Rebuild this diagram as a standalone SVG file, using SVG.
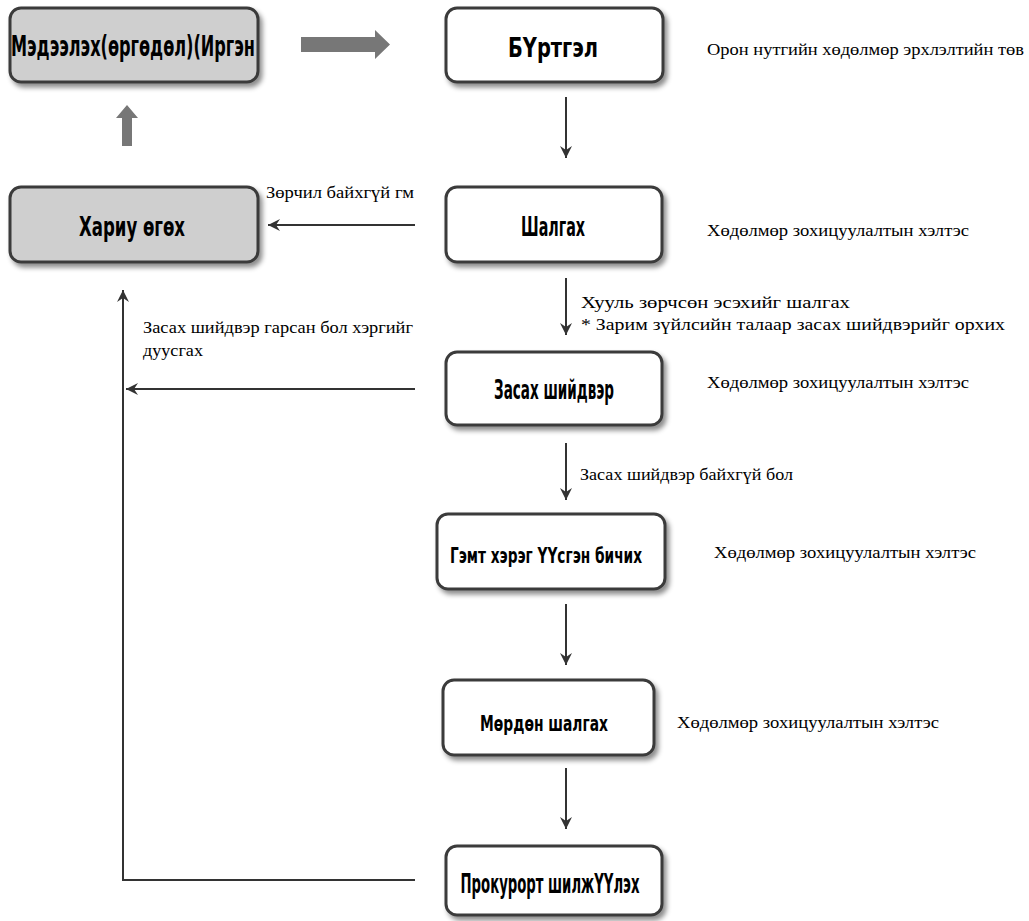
<svg xmlns="http://www.w3.org/2000/svg" width="1029" height="921" viewBox="0 0 1029 921">
<defs>
<filter id="sh" x="-10%" y="-10%" width="125%" height="135%">
<feDropShadow dx="3" dy="4" stdDeviation="2.5" flood-color="#000" flood-opacity="0.45"/>
</filter>
<marker id="ah" markerWidth="14" markerHeight="14" refX="12" refY="7" orient="auto" markerUnits="userSpaceOnUse">
<path d="M0,1 L12,7 L0,13 L4,7 Z" fill="#333"/>
</marker>
<style>
.box{fill:#fff;stroke:#3a3a3a;stroke-width:3;filter:url(#sh)}
.gray{fill:#cfcfcf}
.nt{font-family:"DejaVu Sans Condensed","DejaVu Sans","Noto Sans",sans-serif;font-weight:bold;font-size:27px;fill:#000;text-anchor:middle;dominant-baseline:central}
.lb{font-family:"Liberation Serif","DejaVu Serif","Times New Roman",serif;font-size:17px;fill:#000}
.cn{fill:none;stroke:#333;stroke-width:2;marker-end:url(#ah)}
.blk{fill:#777}
</style>
</defs>
<rect width="1029" height="921" fill="#fff"/>

<g id="n1"><rect class="box gray" x="10" y="8" width="248" height="74" rx="11"/><text class="nt" x="133" y="46" style="font-size:28px" textLength="244" lengthAdjust="spacingAndGlyphs">Мэдээлэх(өргөдөл)(Иргэн</text></g>
<g id="n2"><rect class="box" x="446" y="8" width="217" height="74" rx="11"/><text class="nt" x="553" y="47" textLength="90" lengthAdjust="spacingAndGlyphs">БҮртгэл</text></g>
<g id="n3"><rect class="box" x="446" y="187" width="216" height="75" rx="11"/><text class="nt" x="553" y="226" textLength="64" lengthAdjust="spacingAndGlyphs">Шалгах</text></g>
<g id="n4"><rect class="box gray" x="10" y="187" width="248" height="75" rx="11"/><text class="nt" x="132" y="226" textLength="106" lengthAdjust="spacingAndGlyphs">Хариу өгөх</text></g>
<g id="n5"><rect class="box" x="446" y="352" width="216" height="73" rx="11"/><text class="nt" x="554" y="389" textLength="120" lengthAdjust="spacingAndGlyphs">Засах шийдвэр</text></g>
<g id="n6"><rect class="box" x="437" y="514" width="228" height="75" rx="11"/><text class="nt" x="546" y="555" style="font-size:22px" textLength="192" lengthAdjust="spacingAndGlyphs">Гэмт хэрэг ҮҮсгэн бичих</text></g>
<g id="n7"><rect class="box" x="443" y="680" width="211" height="75" rx="11"/><text class="nt" x="544" y="723" style="font-size:22px" textLength="128" lengthAdjust="spacingAndGlyphs">Мөрдөн шалгах</text></g>
<g id="n8"><rect class="box" x="446" y="846" width="216" height="69" rx="11"/><text class="nt" x="550" y="883" textLength="179" lengthAdjust="spacingAndGlyphs">Прокурорт шилжҮҮлэх</text></g>

<g id="connectors">
<polygon class="blk" points="301,37 375,37 375,30 390,44.5 375,59 375,52 301,52"/>
<polygon class="blk" points="127,105 138,118 132,118 132,146 122,146 122,118 116,118"/>
<line class="cn" x1="566" y1="97" x2="566" y2="158"/>
<line class="cn" x1="566" y1="278" x2="566" y2="335"/>
<line class="cn" x1="566" y1="443" x2="566" y2="500"/>
<line class="cn" x1="566" y1="604" x2="566" y2="665"/>
<line class="cn" x1="566" y1="768" x2="566" y2="829"/>
<line class="cn" x1="415" y1="225" x2="268" y2="225"/>
<line class="cn" x1="415" y1="389" x2="126" y2="389"/>
<path class="cn" d="M415,880 H123 V290"/>
</g>

<g id="labels">
<text class="lb" x="707" y="55" textLength="317" lengthAdjust="spacingAndGlyphs">Орон нутгийн хөдөлмөр эрхлэлтийн төв</text>
<text class="lb" x="707" y="236" textLength="262" lengthAdjust="spacingAndGlyphs">Хөдөлмөр зохицуулалтын хэлтэс</text>
<text class="lb" x="266" y="198" textLength="148" lengthAdjust="spacingAndGlyphs">Зөрчил байхгүй гм</text>
<text class="lb" x="581" y="308" textLength="269" lengthAdjust="spacingAndGlyphs">Хууль зөрчсөн эсэхийг шалгах</text>
<text class="lb" x="581" y="330" textLength="424" lengthAdjust="spacingAndGlyphs">* Зарим зүйлсийн талаар засах шийдвэрийг орхих</text>
<text class="lb" x="143" y="333" textLength="270" lengthAdjust="spacingAndGlyphs">Засах шийдвэр гарсан бол хэргийг</text>
<text class="lb" x="143" y="356" textLength="60" lengthAdjust="spacingAndGlyphs">дуусгах</text>
<text class="lb" x="707" y="388" textLength="262" lengthAdjust="spacingAndGlyphs">Хөдөлмөр зохицуулалтын хэлтэс</text>
<text class="lb" x="580" y="480" textLength="213" lengthAdjust="spacingAndGlyphs">Засах шийдвэр байхгүй бол</text>
<text class="lb" x="714" y="558" textLength="262" lengthAdjust="spacingAndGlyphs">Хөдөлмөр зохицуулалтын хэлтэс</text>
<text class="lb" x="677" y="728" textLength="262" lengthAdjust="spacingAndGlyphs">Хөдөлмөр зохицуулалтын хэлтэс</text>
</g>
</svg>
